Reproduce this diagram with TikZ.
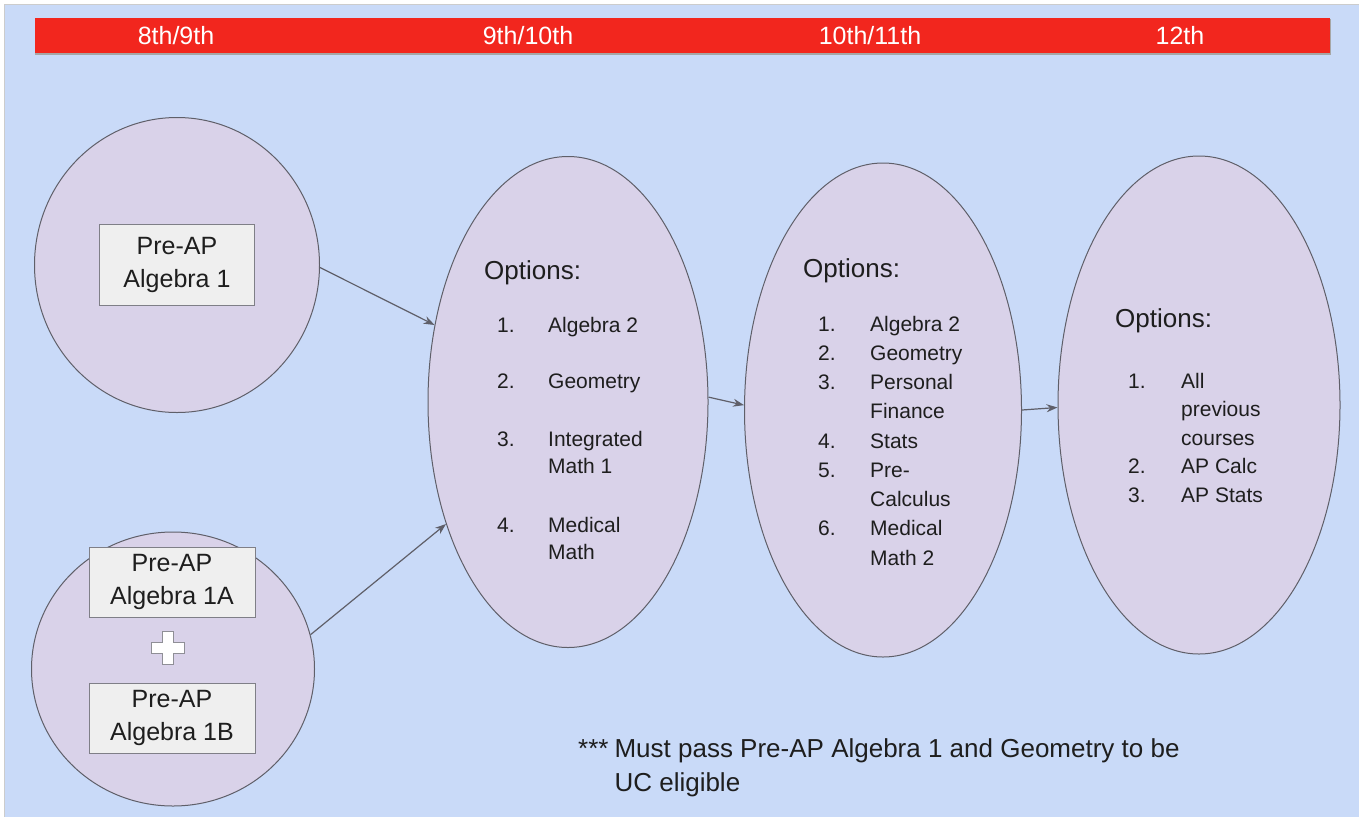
\documentclass[tikz,border=0pt]{standalone}
\usepackage{fontspec}
\setmainfont{Liberation Sans}
\usepackage{tikz}
\usetikzlibrary{positioning, shapes.geometric, arrows.meta}

\definecolor{pageblue}{RGB}{201,218,248}
\definecolor{barred}{RGB}{242,38,30}
\definecolor{lilac}{RGB}{217,210,233}
\definecolor{edgegray}{RGB}{95,95,105}
\definecolor{boxgray}{RGB}{239,239,239}
\definecolor{inkgray}{RGB}{30,30,30}

\begin{document}
\begin{tikzpicture}[x=1pt, y=-1pt,
        bubble/.style={ellipse, draw=edgegray, line width=1pt, fill=lilac, inner sep=0pt},
        course/.style={draw=edgegray!80, line width=1pt, fill=boxgray, align=center, text=inkgray,
            minimum width=166pt, minimum height=70pt, inner sep=0pt, font=\fontsize{25}{33}\selectfont},
        grade/.style={text=white, font=\fontsize{25}{30}\selectfont},
        optshead/.style={anchor=base west, inner sep=0pt, text=inkgray, font=\fontsize{26}{30}\selectfont},
        optlist/.style={anchor=base west, inner sep=0pt, text=inkgray},
        flow/.style={draw=edgegray, line width=1.2pt, -{Stealth[length=11pt, width=8pt]}}]
        \useasboundingbox (0,0) rectangle (1359,817);
        \fill[white] (0,0) rectangle (1359,817);
        \fill[pageblue] (4,4) rectangle (1359,817);
        \draw[black!20, line width=1pt] (1359,4) -- (4,4) -- (4,817);

        \fill[black!35] (35,19) rectangle (1331,55);
        \fill[barred] (35,18) rectangle (1330,53);
        \node[grade] (g1) at (176,36) {8th/9th};
        \node[grade] (g2) at (528,36) {9th/10th};
        \node[grade] (g3) at (870,36) {10th/11th};
        \node[grade] (g4) at (1180,36) {12th};

        \node[bubble, minimum width=285pt, minimum height=295pt] (start) at (177,265) {};
        \node[bubble, minimum width=283pt, minimum height=274pt] (split) at (173,669) {};
        \node[bubble, minimum width=280pt, minimum height=491pt] (opts910) at (568,402) {};
        \node[bubble, minimum width=277pt, minimum height=494pt] (opts1011) at (883,410) {};
        \node[bubble, minimum width=282pt, minimum height=498pt] (opts12) at (1199,405) {};

        \node[course, minimum width=155pt, minimum height=81pt] (alg1) at (177,265) {Pre-AP\\Algebra 1};
        \node[course] (alg1a) at (172,582) {Pre-AP\\Algebra 1A};
        \node[course] (alg1b) at (172,718) {Pre-AP\\Algebra 1B};
        \draw[edgegray!70, fill=white, line width=1pt] (162,631) -- (173,631) -- (173,642) -- (184,642) -- (184,653)
            -- (173,653) -- (173,664) -- (162,664) -- (162,653) -- (151,653) -- (151,642) -- (162,642) -- cycle;

        \draw[flow] (start.-1) -- (opts910.150);
        \draw[flow] (split.14) -- (opts910.225);
        \draw[flow] (opts910.2) -- (opts1011.178);
        \draw[flow] (opts1011.east) -- (opts12.181);

        \node[optshead] (head910) at (484,279) {Options:};
        \node[optlist, font=\fontsize{21}{27}\selectfont] (list910) at (497,332) {\begin{tabular}[t]{@{}p{51pt}@{}l@{}}
            1. & Algebra 2\\[29pt]
            2. & Geometry\\[31pt]
            3. & Integrated\\
               & Math 1\\[32pt]
            4. & Medical\\
               & Math
        \end{tabular}};

        \node[optshead] (head1011) at (803,277) {Options:};
        \node[optlist, font=\fontsize{21}{29.25}\selectfont] (list1011) at (818,331) {\begin{tabular}[t]{@{}p{52pt}@{}l@{}}
            1. & Algebra 2\\
            2. & Geometry\\
            3. & Personal\\
               & Finance\\
            4. & Stats\\
            5. & Pre-\\
               & Calculus\\
            6. & Medical\\
               & Math 2
        \end{tabular}};

        \node[optshead] (head12) at (1115,327) {Options:};
        \node[optlist, font=\fontsize{21}{28.5}\selectfont] (list12) at (1128,388) {\begin{tabular}[t]{@{}p{53pt}@{}l@{}}
            1. & All\\
               & previous\\
               & courses\\
            2. & AP Calc\\
            3. & AP Stats
        \end{tabular}};

        \node[optlist, font=\fontsize{26}{34}\selectfont] (note) at (578,757) {\begin{tabular}[t]{@{}l@{\hspace{6pt}}l@{}}
            *** & Must pass Pre-AP Algebra 1 and Geometry to be\\
                & UC eligible
        \end{tabular}};
\end{tikzpicture}
\end{document}
